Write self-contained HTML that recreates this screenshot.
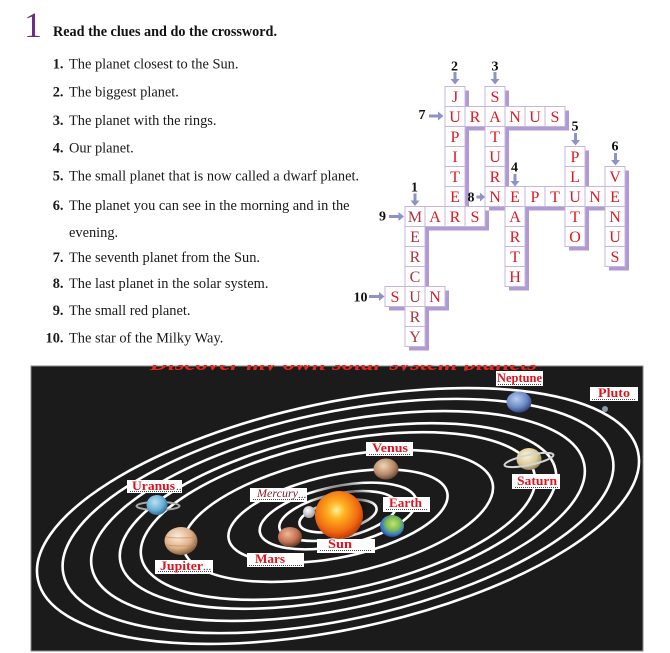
<!DOCTYPE html>
<html><head><meta charset="utf-8"><style>
html,body{margin:0;padding:0;background:#fff;width:670px;height:653px;overflow:hidden;position:relative;}
svg{display:block;position:absolute;left:0;top:0;}
</style></head><body><svg width="670" height="653" viewBox="0 0 670 653" xmlns="http://www.w3.org/2000/svg" font-family="'Liberation Serif', serif">
<defs>
<radialGradient id="sunG" cx="45%" cy="40%" r="60%"><stop offset="0" stop-color="#fff09a"/><stop offset="0.3" stop-color="#ffb020"/><stop offset="0.75" stop-color="#f06a10"/><stop offset="1" stop-color="#c03a08"/></radialGradient>
<radialGradient id="glowG" cx="50%" cy="50%" r="50%"><stop offset="0.6" stop-color="#0c0c0c" stop-opacity="0.9"/><stop offset="1" stop-color="#1b1b1b" stop-opacity="0"/></radialGradient>
<radialGradient id="venG" cx="40%" cy="35%" r="70%"><stop offset="0" stop-color="#efd6b8"/><stop offset="0.6" stop-color="#b88a68"/><stop offset="1" stop-color="#5e4232"/></radialGradient>
<radialGradient id="earG" cx="55%" cy="40%" r="65%"><stop offset="0" stop-color="#c8e070"/><stop offset="0.45" stop-color="#7cc050"/><stop offset="0.75" stop-color="#3a78c8"/><stop offset="1" stop-color="#1a3a80"/></radialGradient>
<radialGradient id="marG" cx="40%" cy="35%" r="70%"><stop offset="0" stop-color="#f0b898"/><stop offset="0.6" stop-color="#c07050"/><stop offset="1" stop-color="#5a3020"/></radialGradient>
<radialGradient id="merG" cx="40%" cy="35%" r="70%"><stop offset="0" stop-color="#ffffff"/><stop offset="1" stop-color="#9a9a9a"/></radialGradient>
<radialGradient id="jupG" cx="40%" cy="35%" r="70%"><stop offset="0" stop-color="#fbeedc"/><stop offset="0.6" stop-color="#ddb088"/><stop offset="1" stop-color="#7a5030"/></radialGradient>
<radialGradient id="satG" cx="40%" cy="35%" r="70%"><stop offset="0" stop-color="#fbf4d4"/><stop offset="0.6" stop-color="#dccb98"/><stop offset="1" stop-color="#8a7a50"/></radialGradient>
<radialGradient id="uraG" cx="40%" cy="35%" r="70%"><stop offset="0" stop-color="#b8e2f4"/><stop offset="0.6" stop-color="#6aaed4"/><stop offset="1" stop-color="#2a6088"/></radialGradient>
<radialGradient id="nepG" cx="40%" cy="35%" r="70%"><stop offset="0" stop-color="#b8cdf0"/><stop offset="0.6" stop-color="#6a88c4"/><stop offset="1" stop-color="#2a3a70"/></radialGradient>
<clipPath id="tc"><rect x="31" y="365" width="612" height="5.5"/></clipPath>
</defs>
<rect width="670" height="653" fill="#fff"/>

<text x="24" y="37" font-size="36" fill="#6b2f86">1</text>
<text x="53" y="36" font-size="14.2" font-weight="bold" fill="#111">Read the clues and do the crossword.</text>

<g font-size="14.4" fill="#1a1a1a">
<g font-weight="bold" text-anchor="end">
<text x="63.5" y="68.5">1.</text>
<text x="63.5" y="96.7">2.</text>
<text x="63.5" y="125">3.</text>
<text x="63.5" y="152.7">4.</text>
<text x="63.5" y="180.7">5.</text>
<text x="63.5" y="210">6.</text>
<text x="63.5" y="262">7.</text>
<text x="63.5" y="288">8.</text>
<text x="63.5" y="315">9.</text>
<text x="63.5" y="342.5">10.</text>
</g>
<text x="69" y="68.5">The planet closest to the Sun.</text>
<text x="69" y="96.7">The biggest planet.</text>
<text x="69" y="125">The planet with the rings.</text>
<text x="69" y="152.7">Our planet.</text>
<text x="69" y="180.7">The small planet that is now called a dwarf planet.</text>
<text x="69" y="210">The planet you can see in the morning and in the</text>
<text x="69" y="237">evening.</text>
<text x="69" y="262">The seventh planet from the Sun.</text>
<text x="69" y="288">The last planet in the solar system.</text>
<text x="69" y="315">The small red planet.</text>
<text x="69" y="342.5">The star of the Milky Way.</text>
</g>

<g fill="#b09ad4">
<rect x="449" y="90.5" width="20" height="140"/>
<rect x="489" y="90.5" width="20" height="120"/>
<rect x="449" y="110.5" width="120" height="20"/>
<rect x="569" y="150.5" width="20" height="100"/>
<rect x="609" y="170.5" width="20" height="100"/>
<rect x="489" y="190.5" width="140" height="20"/>
<rect x="509" y="190.5" width="20" height="100"/>
<rect x="409" y="210.5" width="80" height="20"/>
<rect x="409" y="210.5" width="20" height="140"/>
<rect x="389" y="290.5" width="60" height="20"/>
</g>

<g fill="#fff" stroke="#c6b5de" stroke-width="1">
<rect x="445" y="86.5" width="20" height="20"/><rect x="485" y="86.5" width="20" height="20"/>
<rect x="445" y="106.5" width="20" height="20"/><rect x="465" y="106.5" width="20" height="20"/><rect x="485" y="106.5" width="20" height="20"/><rect x="505" y="106.5" width="20" height="20"/><rect x="525" y="106.5" width="20" height="20"/><rect x="545" y="106.5" width="20" height="20"/>
<rect x="445" y="126.5" width="20" height="20"/><rect x="485" y="126.5" width="20" height="20"/>
<rect x="445" y="146.5" width="20" height="20"/><rect x="485" y="146.5" width="20" height="20"/><rect x="565" y="146.5" width="20" height="20"/>
<rect x="445" y="166.5" width="20" height="20"/><rect x="485" y="166.5" width="20" height="20"/><rect x="565" y="166.5" width="20" height="20"/><rect x="605" y="166.5" width="20" height="20"/>
<rect x="445" y="186.5" width="20" height="20"/><rect x="485" y="186.5" width="20" height="20"/><rect x="505" y="186.5" width="20" height="20"/><rect x="525" y="186.5" width="20" height="20"/><rect x="545" y="186.5" width="20" height="20"/><rect x="565" y="186.5" width="20" height="20"/><rect x="585" y="186.5" width="20" height="20"/><rect x="605" y="186.5" width="20" height="20"/>
<rect x="405" y="206.5" width="20" height="20"/><rect x="425" y="206.5" width="20" height="20"/><rect x="445" y="206.5" width="20" height="20"/><rect x="465" y="206.5" width="20" height="20"/><rect x="505" y="206.5" width="20" height="20"/><rect x="565" y="206.5" width="20" height="20"/><rect x="605" y="206.5" width="20" height="20"/>
<rect x="405" y="226.5" width="20" height="20"/><rect x="505" y="226.5" width="20" height="20"/><rect x="565" y="226.5" width="20" height="20"/><rect x="605" y="226.5" width="20" height="20"/>
<rect x="405" y="246.5" width="20" height="20"/><rect x="505" y="246.5" width="20" height="20"/><rect x="605" y="246.5" width="20" height="20"/>
<rect x="405" y="266.5" width="20" height="20"/><rect x="505" y="266.5" width="20" height="20"/>
<rect x="385" y="286.5" width="20" height="20"/><rect x="405" y="286.5" width="20" height="20"/><rect x="425" y="286.5" width="20" height="20"/>
<rect x="405" y="306.5" width="20" height="20"/>
<rect x="405" y="326.5" width="20" height="20"/>
</g>

<g font-size="16" fill="#e3161f" text-anchor="middle">
<text x="455" y="102">J</text><text x="495" y="102">S</text>
<text x="455" y="122">U</text><text x="475" y="122">R</text><text x="495" y="122">A</text><text x="515" y="122">N</text><text x="535" y="122">U</text><text x="555" y="122">S</text>
<text x="455" y="142">P</text><text x="495" y="142">T</text>
<text x="455" y="162">I</text><text x="495" y="162">U</text><text x="575" y="162">P</text>
<text x="455" y="182">T</text><text x="495" y="182">R</text><text x="575" y="182">L</text><text x="615" y="182">V</text>
<text x="455" y="202">E</text><text x="495" y="202">N</text><text x="515" y="202">E</text><text x="535" y="202">P</text><text x="555" y="202">T</text><text x="575" y="202">U</text><text x="595" y="202">N</text><text x="615" y="202">E</text>
<text x="435" y="222">A</text><text x="455" y="222">R</text><text x="475" y="222">S</text><text x="515" y="222">A</text><text x="575" y="222">T</text><text x="615" y="222">N</text>
<text x="515" y="242">R</text><text x="575" y="242">O</text><text x="615" y="242">U</text>
<text x="515" y="262">T</text><text x="615" y="262">S</text>
<text x="515" y="282">H</text>
<text x="395" y="302">S</text><text x="435" y="302">N</text>
</g>
<g font-size="16" fill="#a8343c" text-anchor="middle">
<text x="415" y="222">M</text>
<text x="415" y="242">E</text>
<text x="415" y="262">R</text>
<text x="415" y="282">C</text>
<text x="415" y="302">U</text>
<text x="415" y="322">R</text>
<text x="415" y="342">Y</text>
</g>

<g font-size="14" font-weight="bold" fill="#111" text-anchor="middle">
<text x="454.5" y="70.5">2</text>
<text x="495" y="70.5">3</text>
<text x="422" y="119">7</text>
<text x="575" y="130.5">5</text>
<text x="615" y="150.5">6</text>
<text x="514.5" y="171.5">4</text>
<text x="471" y="201.5">8</text>
<text x="414.5" y="191.5">1</text>
<text x="382.5" y="220.5">9</text>
<text x="360.5" y="301.5">10</text>
</g>
<g fill="#8f92c8">
<path d="M453.5 72h3v7h3l-4.5 5.5l-4.5-5.5h3z"/>
<path d="M493.5 72h3v7h3l-4.5 5.5l-4.5-5.5h3z"/>
<path d="M574 133h3v7h3l-4.5 5.5l-4.5-5.5h3z"/>
<path d="M614 153h3v7h3l-4.5 5.5l-4.5-5.5h3z"/>
<path d="M513.5 174h3v7h3l-4.5 5.5l-4.5-5.5h3z"/>
<path d="M413.5 193.5h3v7h3l-4.5 5.5l-4.5-5.5h3z"/>
<path d="M429 114.5v3h9v3l5.5-4.5l-5.5-4.5v3z"/>
<path d="M476.5 195.5v3h3.5v3l5-4.5l-5-4.5v3z"/>
<path d="M389 215v3h9.5v3l5.5-4.5l-5.5-4.5v3z"/>
<path d="M369 295v3h10v3l5.5-4.5l-5.5-4.5v3z"/>
</g>

<rect x="31" y="366" width="612" height="285" fill="#1b1b1b" stroke="#8a8a8a" stroke-width="1"/>
<text x="150" y="370" font-size="22" font-weight="bold" font-style="italic" fill="#e8251e" clip-path="url(#tc)" textLength="387" lengthAdjust="spacingAndGlyphs">Discover my own solar system planets</text>

<g transform="rotate(-12 338 516)" fill="none" stroke="#fff" stroke-width="2.6">
<ellipse cx="338" cy="516" rx="306.8" ry="113.4"/>
<ellipse cx="338" cy="516" rx="280.7" ry="103.8"/>
<ellipse cx="338" cy="516" rx="251.6" ry="93.0"/>
<ellipse cx="338" cy="516" rx="222.4" ry="82.2"/>
<ellipse cx="338" cy="516" rx="201.0" ry="74.3"/>
<ellipse cx="338" cy="516" rx="158.0" ry="58.4"/>
<ellipse cx="338" cy="516" rx="111.7" ry="41.3"/>
<ellipse cx="338" cy="516" rx="79.8" ry="29.5"/>
<ellipse cx="338" cy="516" rx="59.8" ry="22.1"/>
<ellipse cx="338" cy="516" rx="39.3" ry="14.5"/>
</g>

<circle cx="342" cy="508" r="34" fill="url(#glowG)" opacity="0.6"/>
<circle cx="339" cy="515" r="24" fill="url(#sunG)"/>
<circle cx="309" cy="512" r="6" fill="url(#merG)"/>
<ellipse cx="386" cy="469" rx="12.5" ry="10.5" fill="url(#venG)"/>
<ellipse cx="392" cy="526" rx="12" ry="11" fill="url(#earG)"/>
<ellipse cx="290" cy="537" rx="12" ry="10" fill="url(#marG)"/>
<ellipse cx="181" cy="541" rx="16.5" ry="14" fill="url(#jupG)"/>
<g stroke="#c88a60" stroke-width="1" fill="none" opacity="0.7">
<path d="M166 537 Q181 539 196 537"/><path d="M166 545 Q181 547 196 545"/>
</g>
<ellipse cx="529" cy="459" rx="12.5" ry="11" fill="url(#satG)"/>
<ellipse cx="529" cy="460" rx="25" ry="5" fill="none" stroke="#d4d4d4" stroke-width="2" transform="rotate(-12 529 460)"/>
<ellipse cx="158" cy="506" rx="21.5" ry="4" fill="none" stroke="#a8a8a8" stroke-width="2"/>
<ellipse cx="157" cy="505" rx="10.5" ry="10" fill="url(#uraG)"/>
<ellipse cx="519" cy="402" rx="12.5" ry="10.5" fill="url(#nepG)"/>
<circle cx="605" cy="409" r="3" fill="#8a9aaa"/>

<g fill="#fff">
<rect x="127" y="480" width="55" height="13"/>
<rect x="155" y="560" width="58" height="14"/>
<rect x="250" y="488" width="57" height="14"/>
<rect x="247" y="553" width="57" height="14"/>
<rect x="317" y="539" width="58" height="14"/>
<rect x="383" y="497" width="47" height="15"/>
<rect x="366" y="442" width="47" height="14"/>
<rect x="512" y="474" width="48" height="15"/>
<rect x="496" y="371" width="47" height="15"/>
<rect x="590" y="387" width="48" height="14"/>
</g>
<g stroke="#444" stroke-width="1" stroke-dasharray="1 1">
<line x1="130" y1="491.5" x2="181" y2="491.5"/>
<line x1="158" y1="571.5" x2="212" y2="571.5"/>
<line x1="253" y1="499.5" x2="305" y2="499.5"/>
<line x1="249" y1="565.5" x2="302" y2="565.5"/>
<line x1="320" y1="550.5" x2="372" y2="550.5"/>
<line x1="386" y1="509.5" x2="428" y2="509.5"/>
<line x1="369" y1="454.5" x2="411" y2="454.5"/>
<line x1="515" y1="487.5" x2="558" y2="487.5"/>
<line x1="498" y1="384.5" x2="541" y2="384.5"/>
<line x1="592" y1="399.5" x2="636" y2="399.5"/>
</g>
<g font-weight="bold" fill="#e0141e" font-size="12.5">
<text x="132" y="490" textLength="43" lengthAdjust="spacingAndGlyphs">Uranus</text>
<text x="160" y="570" textLength="43" lengthAdjust="spacingAndGlyphs">Jupiter</text>
<text x="255" y="563" font-size="13" textLength="30" lengthAdjust="spacingAndGlyphs">Mars</text>
<text x="328" y="548" font-size="13" textLength="24" lengthAdjust="spacingAndGlyphs">Sun</text>
<text x="389" y="507" font-size="13" textLength="33" lengthAdjust="spacingAndGlyphs">Earth</text>
<text x="372" y="452" font-size="13" textLength="36" lengthAdjust="spacingAndGlyphs">Venus</text>
<text x="517" y="485" font-size="13" textLength="40" lengthAdjust="spacingAndGlyphs">Saturn</text>
<text x="497" y="382" textLength="45" lengthAdjust="spacingAndGlyphs">Neptune</text>
<text x="598" y="397" textLength="32" lengthAdjust="spacingAndGlyphs">Pluto</text>
</g>
<text x="257" y="497" font-size="11.5" font-style="italic" fill="#8b1a2a" textLength="41" lengthAdjust="spacingAndGlyphs">Mercury</text>
<g fill="#333" font-size="11">
<text x="176" y="490">..</text>
<text x="203" y="570">...</text>
<text x="298" y="498">...</text>
</g>
</svg></body></html>
